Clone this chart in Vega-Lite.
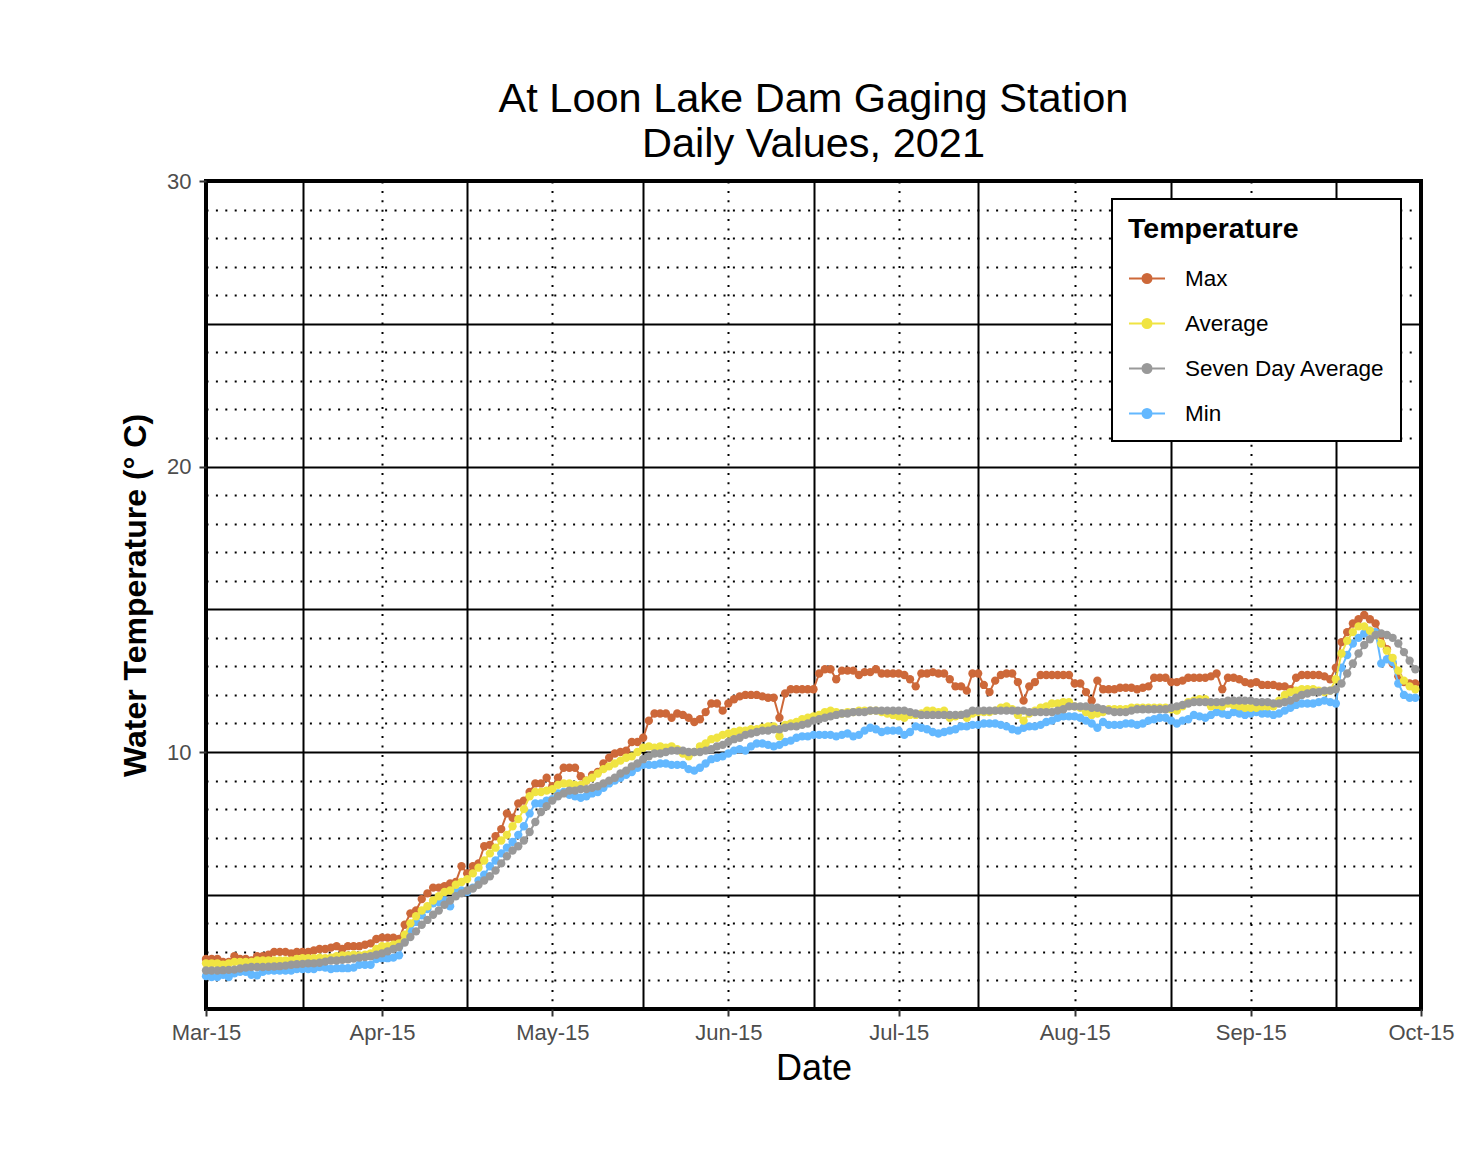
{
"$schema":"https://vega.github.io/schema/vega-lite/v6.json",
"width":1215,"height":828,
"autosize":"none",
"padding":{"left":206,"top":181,"right":58,"bottom":146},
"background":"white",
"title":{"text":["At Loon Lake Dam Gaging Station","Daily Values, 2021"],"fontSize":41.5,"font":"Liberation Sans","fontWeight":"normal","color":"black","anchor":"middle","frame":"group","lineHeight":45,"offset":5},
"config":{"font":"Liberation Sans","view":{"stroke":"black","strokeWidth":4},
"axis":{"domain":false,"grid":true,"gridColor":"black","gridWidth":2,"tickColor":"#333333","tickWidth":2,"tickSize":7,"labelFont":"Liberation Sans","labelFontSize":22,"labelColor":"#4D4D4D","titleFont":"Liberation Sans","titleColor":"black","labelOverlap":false,"labelFlush":false}},
"datasets":{
"max":[{"d":"2021-03-15","t":2.75},{"d":"2021-03-16","t":2.75},{"d":"2021-03-17","t":2.75},{"d":"2021-03-18","t":2.65},{"d":"2021-03-19","t":2.65},{"d":"2021-03-20","t":2.85},{"d":"2021-03-21","t":2.75},{"d":"2021-03-22","t":2.75},{"d":"2021-03-23","t":2.7},{"d":"2021-03-24","t":2.85},{"d":"2021-03-25","t":2.85},{"d":"2021-03-26","t":2.9},{"d":"2021-03-27","t":3.0},{"d":"2021-03-28","t":3.0},{"d":"2021-03-29","t":3.0},{"d":"2021-03-30","t":2.95},{"d":"2021-03-31","t":3.0},
{"d":"2021-04-01","t":3.0},{"d":"2021-04-02","t":3.0},{"d":"2021-04-03","t":3.05},{"d":"2021-04-04","t":3.1},{"d":"2021-04-05","t":3.1},{"d":"2021-04-06","t":3.15},{"d":"2021-04-07","t":3.2},{"d":"2021-04-08","t":3.1},{"d":"2021-04-09","t":3.2},{"d":"2021-04-10","t":3.2},{"d":"2021-04-11","t":3.2},{"d":"2021-04-12","t":3.25},{"d":"2021-04-13","t":3.3},{"d":"2021-04-14","t":3.45},{"d":"2021-04-15","t":3.5},{"d":"2021-04-16","t":3.5},{"d":"2021-04-17","t":3.5},{"d":"2021-04-18","t":3.45},{"d":"2021-04-19","t":3.95},{"d":"2021-04-20","t":4.35},{"d":"2021-04-21","t":4.45},{"d":"2021-04-22","t":4.85},{"d":"2021-04-23","t":5.05},{"d":"2021-04-24","t":5.25},{"d":"2021-04-25","t":5.25},{"d":"2021-04-26","t":5.3},{"d":"2021-04-27","t":5.4},{"d":"2021-04-28","t":5.45},{"d":"2021-04-29","t":6.0},{"d":"2021-04-30","t":5.75},
{"d":"2021-05-01","t":6.0},{"d":"2021-05-02","t":6.1},{"d":"2021-05-03","t":6.7},{"d":"2021-05-04","t":6.75},{"d":"2021-05-05","t":7.05},{"d":"2021-05-06","t":7.3},{"d":"2021-05-07","t":7.85},{"d":"2021-05-08","t":7.7},{"d":"2021-05-09","t":8.2},{"d":"2021-05-10","t":8.3},{"d":"2021-05-11","t":8.6},{"d":"2021-05-12","t":8.9},{"d":"2021-05-13","t":8.9},{"d":"2021-05-14","t":9.1},{"d":"2021-05-15","t":8.8},{"d":"2021-05-16","t":9.1},{"d":"2021-05-17","t":9.45},{"d":"2021-05-18","t":9.45},{"d":"2021-05-19","t":9.45},{"d":"2021-05-20","t":9.15},{"d":"2021-05-21","t":9.0},{"d":"2021-05-22","t":9.2},{"d":"2021-05-23","t":9.3},{"d":"2021-05-24","t":9.6},{"d":"2021-05-25","t":9.8},{"d":"2021-05-26","t":9.95},{"d":"2021-05-27","t":10.0},{"d":"2021-05-28","t":10.05},{"d":"2021-05-29","t":10.35},{"d":"2021-05-30","t":10.35},{"d":"2021-05-31","t":10.5},
{"d":"2021-06-01","t":11.1},{"d":"2021-06-02","t":11.35},{"d":"2021-06-03","t":11.35},{"d":"2021-06-04","t":11.35},{"d":"2021-06-05","t":11.2},{"d":"2021-06-06","t":11.35},{"d":"2021-06-07","t":11.3},{"d":"2021-06-08","t":11.2},{"d":"2021-06-09","t":11.05},{"d":"2021-06-10","t":11.15},{"d":"2021-06-11","t":11.4},{"d":"2021-06-12","t":11.7},{"d":"2021-06-13","t":11.7},{"d":"2021-06-14","t":11.45},{"d":"2021-06-15","t":11.7},{"d":"2021-06-16","t":11.85},{"d":"2021-06-17","t":11.95},{"d":"2021-06-18","t":12.0},{"d":"2021-06-19","t":12.0},{"d":"2021-06-20","t":12.0},{"d":"2021-06-21","t":11.95},{"d":"2021-06-22","t":11.9},{"d":"2021-06-23","t":11.9},{"d":"2021-06-24","t":11.2},{"d":"2021-06-25","t":12.05},{"d":"2021-06-26","t":12.2},{"d":"2021-06-27","t":12.2},{"d":"2021-06-28","t":12.2},{"d":"2021-06-29","t":12.2},{"d":"2021-06-30","t":12.2},
{"d":"2021-07-01","t":12.75},{"d":"2021-07-02","t":12.9},{"d":"2021-07-03","t":12.9},{"d":"2021-07-04","t":12.55},{"d":"2021-07-05","t":12.85},{"d":"2021-07-06","t":12.85},{"d":"2021-07-07","t":12.85},{"d":"2021-07-08","t":12.7},{"d":"2021-07-09","t":12.8},{"d":"2021-07-10","t":12.8},{"d":"2021-07-11","t":12.9},{"d":"2021-07-12","t":12.75},{"d":"2021-07-13","t":12.75},{"d":"2021-07-14","t":12.75},{"d":"2021-07-15","t":12.75},{"d":"2021-07-16","t":12.7},{"d":"2021-07-17","t":12.55},{"d":"2021-07-18","t":12.3},{"d":"2021-07-19","t":12.75},{"d":"2021-07-20","t":12.75},{"d":"2021-07-21","t":12.8},{"d":"2021-07-22","t":12.75},{"d":"2021-07-23","t":12.75},{"d":"2021-07-24","t":12.55},{"d":"2021-07-25","t":12.3},{"d":"2021-07-26","t":12.3},{"d":"2021-07-27","t":12.15},{"d":"2021-07-28","t":12.75},{"d":"2021-07-29","t":12.75},{"d":"2021-07-30","t":12.35},{"d":"2021-07-31","t":12.1},
{"d":"2021-08-01","t":12.5},{"d":"2021-08-02","t":12.7},{"d":"2021-08-03","t":12.75},{"d":"2021-08-04","t":12.75},{"d":"2021-08-05","t":12.45},{"d":"2021-08-06","t":11.8},{"d":"2021-08-07","t":12.3},{"d":"2021-08-08","t":12.45},{"d":"2021-08-09","t":12.7},{"d":"2021-08-10","t":12.7},{"d":"2021-08-11","t":12.7},{"d":"2021-08-12","t":12.7},{"d":"2021-08-13","t":12.7},{"d":"2021-08-14","t":12.7},{"d":"2021-08-15","t":12.4},{"d":"2021-08-16","t":12.4},{"d":"2021-08-17","t":12.1},{"d":"2021-08-18","t":11.8},{"d":"2021-08-19","t":12.5},{"d":"2021-08-20","t":12.2},{"d":"2021-08-21","t":12.2},{"d":"2021-08-22","t":12.2},{"d":"2021-08-23","t":12.25},{"d":"2021-08-24","t":12.25},{"d":"2021-08-25","t":12.25},{"d":"2021-08-26","t":12.2},{"d":"2021-08-27","t":12.25},{"d":"2021-08-28","t":12.3},{"d":"2021-08-29","t":12.6},{"d":"2021-08-30","t":12.6},{"d":"2021-08-31","t":12.6},
{"d":"2021-09-01","t":12.45},{"d":"2021-09-02","t":12.45},{"d":"2021-09-03","t":12.5},{"d":"2021-09-04","t":12.6},{"d":"2021-09-05","t":12.6},{"d":"2021-09-06","t":12.6},{"d":"2021-09-07","t":12.6},{"d":"2021-09-08","t":12.65},{"d":"2021-09-09","t":12.75},{"d":"2021-09-10","t":12.2},{"d":"2021-09-11","t":12.6},{"d":"2021-09-12","t":12.6},{"d":"2021-09-13","t":12.55},{"d":"2021-09-14","t":12.45},{"d":"2021-09-15","t":12.4},{"d":"2021-09-16","t":12.45},{"d":"2021-09-17","t":12.35},{"d":"2021-09-18","t":12.35},{"d":"2021-09-19","t":12.35},{"d":"2021-09-20","t":12.3},{"d":"2021-09-21","t":12.3},{"d":"2021-09-22","t":12.2},{"d":"2021-09-23","t":12.6},{"d":"2021-09-24","t":12.7},{"d":"2021-09-25","t":12.7},{"d":"2021-09-26","t":12.7},{"d":"2021-09-27","t":12.7},{"d":"2021-09-28","t":12.65},{"d":"2021-09-29","t":12.55},{"d":"2021-09-30","t":12.95},
{"d":"2021-10-01","t":13.85},{"d":"2021-10-02","t":14.2},{"d":"2021-10-03","t":14.5},{"d":"2021-10-04","t":14.65},{"d":"2021-10-05","t":14.8},{"d":"2021-10-06","t":14.65},{"d":"2021-10-07","t":14.5},{"d":"2021-10-08","t":14.1},{"d":"2021-10-09","t":13.6},{"d":"2021-10-10","t":13.1},{"d":"2021-10-11","t":12.65},{"d":"2021-10-12","t":12.45},{"d":"2021-10-13","t":12.4},{"d":"2021-10-14","t":12.4}],
"avg":[{"d":"2021-03-15","t":2.6},{"d":"2021-03-16","t":2.6},{"d":"2021-03-17","t":2.6},{"d":"2021-03-18","t":2.55},{"d":"2021-03-19","t":2.6},{"d":"2021-03-20","t":2.65},{"d":"2021-03-21","t":2.65},{"d":"2021-03-22","t":2.65},{"d":"2021-03-23","t":2.65},{"d":"2021-03-24","t":2.7},{"d":"2021-03-25","t":2.7},{"d":"2021-03-26","t":2.7},{"d":"2021-03-27","t":2.7},{"d":"2021-03-28","t":2.7},{"d":"2021-03-29","t":2.7},{"d":"2021-03-30","t":2.7},{"d":"2021-03-31","t":2.75},
{"d":"2021-04-01","t":2.78},{"d":"2021-04-02","t":2.78},{"d":"2021-04-03","t":2.78},{"d":"2021-04-04","t":2.8},{"d":"2021-04-05","t":2.78},{"d":"2021-04-06","t":2.8},{"d":"2021-04-07","t":2.85},{"d":"2021-04-08","t":2.88},{"d":"2021-04-09","t":2.88},{"d":"2021-04-10","t":2.9},{"d":"2021-04-11","t":2.88},{"d":"2021-04-12","t":2.9},{"d":"2021-04-13","t":2.95},{"d":"2021-04-14","t":3.1},{"d":"2021-04-15","t":3.2},{"d":"2021-04-16","t":3.2},{"d":"2021-04-17","t":3.25},{"d":"2021-04-18","t":3.3},{"d":"2021-04-19","t":3.6},{"d":"2021-04-20","t":4.0},{"d":"2021-04-21","t":4.25},{"d":"2021-04-22","t":4.45},{"d":"2021-04-23","t":4.6},{"d":"2021-04-24","t":4.8},{"d":"2021-04-25","t":4.95},{"d":"2021-04-26","t":5.1},{"d":"2021-04-27","t":5.15},{"d":"2021-04-28","t":5.35},{"d":"2021-04-29","t":5.45},{"d":"2021-04-30","t":5.55},
{"d":"2021-05-01","t":5.75},{"d":"2021-05-02","t":5.95},{"d":"2021-05-03","t":6.2},{"d":"2021-05-04","t":6.45},{"d":"2021-05-05","t":6.65},{"d":"2021-05-06","t":6.9},{"d":"2021-05-07","t":7.1},{"d":"2021-05-08","t":7.4},{"d":"2021-05-09","t":7.65},{"d":"2021-05-10","t":8.0},{"d":"2021-05-11","t":8.45},{"d":"2021-05-12","t":8.6},{"d":"2021-05-13","t":8.6},{"d":"2021-05-14","t":8.65},{"d":"2021-05-15","t":8.7},{"d":"2021-05-16","t":8.85},{"d":"2021-05-17","t":8.9},{"d":"2021-05-18","t":8.9},{"d":"2021-05-19","t":8.85},{"d":"2021-05-20","t":8.85},{"d":"2021-05-21","t":9.0},{"d":"2021-05-22","t":9.1},{"d":"2021-05-23","t":9.25},{"d":"2021-05-24","t":9.4},{"d":"2021-05-25","t":9.5},{"d":"2021-05-26","t":9.6},{"d":"2021-05-27","t":9.7},{"d":"2021-05-28","t":9.8},{"d":"2021-05-29","t":9.85},{"d":"2021-05-30","t":10.0},{"d":"2021-05-31","t":10.15},
{"d":"2021-06-01","t":10.2},{"d":"2021-06-02","t":10.15},{"d":"2021-06-03","t":10.2},{"d":"2021-06-04","t":10.15},{"d":"2021-06-05","t":10.2},{"d":"2021-06-06","t":10.1},{"d":"2021-06-07","t":9.95},{"d":"2021-06-08","t":9.85},{"d":"2021-06-09","t":10.0},{"d":"2021-06-10","t":10.2},{"d":"2021-06-11","t":10.3},{"d":"2021-06-12","t":10.45},{"d":"2021-06-13","t":10.5},{"d":"2021-06-14","t":10.6},{"d":"2021-06-15","t":10.65},{"d":"2021-06-16","t":10.7},{"d":"2021-06-17","t":10.75},{"d":"2021-06-18","t":10.75},{"d":"2021-06-19","t":10.8},{"d":"2021-06-20","t":10.8},{"d":"2021-06-21","t":10.85},{"d":"2021-06-22","t":10.9},{"d":"2021-06-23","t":10.9},{"d":"2021-06-24","t":10.55},{"d":"2021-06-25","t":10.95},{"d":"2021-06-26","t":11.0},{"d":"2021-06-27","t":11.05},{"d":"2021-06-28","t":11.15},{"d":"2021-06-29","t":11.2},{"d":"2021-06-30","t":11.25},
{"d":"2021-07-01","t":11.3},{"d":"2021-07-02","t":11.4},{"d":"2021-07-03","t":11.45},{"d":"2021-07-04","t":11.4},{"d":"2021-07-05","t":11.35},{"d":"2021-07-06","t":11.4},{"d":"2021-07-07","t":11.4},{"d":"2021-07-08","t":11.45},{"d":"2021-07-09","t":11.45},{"d":"2021-07-10","t":11.45},{"d":"2021-07-11","t":11.45},{"d":"2021-07-12","t":11.4},{"d":"2021-07-13","t":11.35},{"d":"2021-07-14","t":11.3},{"d":"2021-07-15","t":11.25},{"d":"2021-07-16","t":11.2},{"d":"2021-07-17","t":11.3},{"d":"2021-07-18","t":11.3},{"d":"2021-07-19","t":11.35},{"d":"2021-07-20","t":11.45},{"d":"2021-07-21","t":11.45},{"d":"2021-07-22","t":11.4},{"d":"2021-07-23","t":11.45},{"d":"2021-07-24","t":11.2},{"d":"2021-07-25","t":11.25},{"d":"2021-07-26","t":11.3},{"d":"2021-07-27","t":11.2},{"d":"2021-07-28","t":11.35},{"d":"2021-07-29","t":11.4},{"d":"2021-07-30","t":11.4},{"d":"2021-07-31","t":11.4},
{"d":"2021-08-01","t":11.45},{"d":"2021-08-02","t":11.55},{"d":"2021-08-03","t":11.6},{"d":"2021-08-04","t":11.5},{"d":"2021-08-05","t":11.3},{"d":"2021-08-06","t":11.1},{"d":"2021-08-07","t":11.35},{"d":"2021-08-08","t":11.45},{"d":"2021-08-09","t":11.55},{"d":"2021-08-10","t":11.6},{"d":"2021-08-11","t":11.7},{"d":"2021-08-12","t":11.7},{"d":"2021-08-13","t":11.75},{"d":"2021-08-14","t":11.75},{"d":"2021-08-15","t":11.6},{"d":"2021-08-16","t":11.55},{"d":"2021-08-17","t":11.4},{"d":"2021-08-18","t":11.3},{"d":"2021-08-19","t":11.35},{"d":"2021-08-20","t":11.4},{"d":"2021-08-21","t":11.5},{"d":"2021-08-22","t":11.5},{"d":"2021-08-23","t":11.5},{"d":"2021-08-24","t":11.5},{"d":"2021-08-25","t":11.55},{"d":"2021-08-26","t":11.55},{"d":"2021-08-27","t":11.55},{"d":"2021-08-28","t":11.55},{"d":"2021-08-29","t":11.55},{"d":"2021-08-30","t":11.55},{"d":"2021-08-31","t":11.55},
{"d":"2021-09-01","t":11.5},{"d":"2021-09-02","t":11.45},{"d":"2021-09-03","t":11.6},{"d":"2021-09-04","t":11.75},{"d":"2021-09-05","t":11.8},{"d":"2021-09-06","t":11.85},{"d":"2021-09-07","t":11.85},{"d":"2021-09-08","t":11.6},{"d":"2021-09-09","t":11.65},{"d":"2021-09-10","t":11.6},{"d":"2021-09-11","t":11.7},{"d":"2021-09-12","t":11.65},{"d":"2021-09-13","t":11.6},{"d":"2021-09-14","t":11.55},{"d":"2021-09-15","t":11.55},{"d":"2021-09-16","t":11.55},{"d":"2021-09-17","t":11.6},{"d":"2021-09-18","t":11.6},{"d":"2021-09-19","t":11.6},{"d":"2021-09-20","t":11.8},{"d":"2021-09-21","t":12.0},{"d":"2021-09-22","t":12.1},{"d":"2021-09-23","t":12.15},{"d":"2021-09-24","t":12.2},{"d":"2021-09-25","t":12.2},{"d":"2021-09-26","t":12.2},{"d":"2021-09-27","t":12.15},{"d":"2021-09-28","t":12.1},{"d":"2021-09-29","t":12.15},{"d":"2021-09-30","t":12.55},
{"d":"2021-10-01","t":13.45},{"d":"2021-10-02","t":13.9},{"d":"2021-10-03","t":14.2},{"d":"2021-10-04","t":14.4},{"d":"2021-10-05","t":14.4},{"d":"2021-10-06","t":14.25},{"d":"2021-10-07","t":14.1},{"d":"2021-10-08","t":13.8},{"d":"2021-10-09","t":13.55},{"d":"2021-10-10","t":13.3},{"d":"2021-10-11","t":12.85},{"d":"2021-10-12","t":12.5},{"d":"2021-10-13","t":12.3},{"d":"2021-10-14","t":12.2}],
"min":[{"d":"2021-03-15","t":2.15},{"d":"2021-03-16","t":2.12},{"d":"2021-03-17","t":2.12},{"d":"2021-03-18","t":2.2},{"d":"2021-03-19","t":2.12},{"d":"2021-03-20","t":2.25},{"d":"2021-03-21","t":2.3},{"d":"2021-03-22","t":2.3},{"d":"2021-03-23","t":2.2},{"d":"2021-03-24","t":2.18},{"d":"2021-03-25","t":2.3},{"d":"2021-03-26","t":2.35},{"d":"2021-03-27","t":2.35},{"d":"2021-03-28","t":2.35},{"d":"2021-03-29","t":2.35},{"d":"2021-03-30","t":2.35},{"d":"2021-03-31","t":2.4},
{"d":"2021-04-01","t":2.4},{"d":"2021-04-02","t":2.4},{"d":"2021-04-03","t":2.4},{"d":"2021-04-04","t":2.47},{"d":"2021-04-05","t":2.45},{"d":"2021-04-06","t":2.4},{"d":"2021-04-07","t":2.43},{"d":"2021-04-08","t":2.43},{"d":"2021-04-09","t":2.43},{"d":"2021-04-10","t":2.45},{"d":"2021-04-11","t":2.55},{"d":"2021-04-12","t":2.55},{"d":"2021-04-13","t":2.55},{"d":"2021-04-14","t":2.75},{"d":"2021-04-15","t":2.78},{"d":"2021-04-16","t":2.78},{"d":"2021-04-17","t":2.8},{"d":"2021-04-18","t":2.88},{"d":"2021-04-19","t":3.4},{"d":"2021-04-20","t":3.75},{"d":"2021-04-21","t":4.05},{"d":"2021-04-22","t":4.28},{"d":"2021-04-23","t":4.5},{"d":"2021-04-24","t":4.7},{"d":"2021-04-25","t":4.75},{"d":"2021-04-26","t":4.8},{"d":"2021-04-27","t":4.6},{"d":"2021-04-28","t":5.1},{"d":"2021-04-29","t":5.15},{"d":"2021-04-30","t":5.1},
{"d":"2021-05-01","t":5.25},{"d":"2021-05-02","t":5.5},{"d":"2021-05-03","t":5.7},{"d":"2021-05-04","t":6.0},{"d":"2021-05-05","t":6.2},{"d":"2021-05-06","t":6.45},{"d":"2021-05-07","t":6.65},{"d":"2021-05-08","t":6.85},{"d":"2021-05-09","t":7.1},{"d":"2021-05-10","t":7.4},{"d":"2021-05-11","t":7.85},{"d":"2021-05-12","t":8.2},{"d":"2021-05-13","t":8.2},{"d":"2021-05-14","t":8.3},{"d":"2021-05-15","t":8.35},{"d":"2021-05-16","t":8.55},{"d":"2021-05-17","t":8.6},{"d":"2021-05-18","t":8.5},{"d":"2021-05-19","t":8.45},{"d":"2021-05-20","t":8.4},{"d":"2021-05-21","t":8.45},{"d":"2021-05-22","t":8.55},{"d":"2021-05-23","t":8.6},{"d":"2021-05-24","t":8.75},{"d":"2021-05-25","t":8.9},{"d":"2021-05-26","t":9.0},{"d":"2021-05-27","t":9.1},{"d":"2021-05-28","t":9.2},{"d":"2021-05-29","t":9.3},{"d":"2021-05-30","t":9.45},{"d":"2021-05-31","t":9.55},
{"d":"2021-06-01","t":9.55},{"d":"2021-06-02","t":9.55},{"d":"2021-06-03","t":9.6},{"d":"2021-06-04","t":9.6},{"d":"2021-06-05","t":9.55},{"d":"2021-06-06","t":9.55},{"d":"2021-06-07","t":9.55},{"d":"2021-06-08","t":9.4},{"d":"2021-06-09","t":9.35},{"d":"2021-06-10","t":9.45},{"d":"2021-06-11","t":9.6},{"d":"2021-06-12","t":9.75},{"d":"2021-06-13","t":9.8},{"d":"2021-06-14","t":9.85},{"d":"2021-06-15","t":9.95},{"d":"2021-06-16","t":10.05},{"d":"2021-06-17","t":10.1},{"d":"2021-06-18","t":10.05},{"d":"2021-06-19","t":10.2},{"d":"2021-06-20","t":10.3},{"d":"2021-06-21","t":10.3},{"d":"2021-06-22","t":10.25},{"d":"2021-06-23","t":10.2},{"d":"2021-06-24","t":10.25},{"d":"2021-06-25","t":10.35},{"d":"2021-06-26","t":10.4},{"d":"2021-06-27","t":10.5},{"d":"2021-06-28","t":10.55},{"d":"2021-06-29","t":10.55},{"d":"2021-06-30","t":10.6},
{"d":"2021-07-01","t":10.6},{"d":"2021-07-02","t":10.6},{"d":"2021-07-03","t":10.6},{"d":"2021-07-04","t":10.55},{"d":"2021-07-05","t":10.6},{"d":"2021-07-06","t":10.65},{"d":"2021-07-07","t":10.55},{"d":"2021-07-08","t":10.6},{"d":"2021-07-09","t":10.75},{"d":"2021-07-10","t":10.85},{"d":"2021-07-11","t":10.8},{"d":"2021-07-12","t":10.7},{"d":"2021-07-13","t":10.75},{"d":"2021-07-14","t":10.75},{"d":"2021-07-15","t":10.75},{"d":"2021-07-16","t":10.6},{"d":"2021-07-17","t":10.7},{"d":"2021-07-18","t":10.9},{"d":"2021-07-19","t":10.85},{"d":"2021-07-20","t":10.8},{"d":"2021-07-21","t":10.7},{"d":"2021-07-22","t":10.65},{"d":"2021-07-23","t":10.7},{"d":"2021-07-24","t":10.75},{"d":"2021-07-25","t":10.8},{"d":"2021-07-26","t":10.9},{"d":"2021-07-27","t":10.9},{"d":"2021-07-28","t":10.95},{"d":"2021-07-29","t":10.95},{"d":"2021-07-30","t":11.0},{"d":"2021-07-31","t":11.0},
{"d":"2021-08-01","t":11.0},{"d":"2021-08-02","t":10.95},{"d":"2021-08-03","t":10.9},{"d":"2021-08-04","t":10.8},{"d":"2021-08-05","t":10.75},{"d":"2021-08-06","t":10.85},{"d":"2021-08-07","t":10.9},{"d":"2021-08-08","t":10.9},{"d":"2021-08-09","t":10.95},{"d":"2021-08-10","t":11.05},{"d":"2021-08-11","t":11.1},{"d":"2021-08-12","t":11.2},{"d":"2021-08-13","t":11.25},{"d":"2021-08-14","t":11.25},{"d":"2021-08-15","t":11.25},{"d":"2021-08-16","t":11.2},{"d":"2021-08-17","t":11.1},{"d":"2021-08-18","t":11.0},{"d":"2021-08-19","t":10.85},{"d":"2021-08-20","t":11.05},{"d":"2021-08-21","t":10.95},{"d":"2021-08-22","t":10.95},{"d":"2021-08-23","t":10.95},{"d":"2021-08-24","t":11.0},{"d":"2021-08-25","t":11.0},{"d":"2021-08-26","t":10.95},{"d":"2021-08-27","t":11.0},{"d":"2021-08-28","t":11.1},{"d":"2021-08-29","t":11.15},{"d":"2021-08-30","t":11.2},{"d":"2021-08-31","t":11.2},
{"d":"2021-09-01","t":11.1},{"d":"2021-09-02","t":11.0},{"d":"2021-09-03","t":11.1},{"d":"2021-09-04","t":11.15},{"d":"2021-09-05","t":11.3},{"d":"2021-09-06","t":11.25},{"d":"2021-09-07","t":11.2},{"d":"2021-09-08","t":11.3},{"d":"2021-09-09","t":11.4},{"d":"2021-09-10","t":11.35},{"d":"2021-09-11","t":11.3},{"d":"2021-09-12","t":11.4},{"d":"2021-09-13","t":11.35},{"d":"2021-09-14","t":11.3},{"d":"2021-09-15","t":11.35},{"d":"2021-09-16","t":11.4},{"d":"2021-09-17","t":11.35},{"d":"2021-09-18","t":11.35},{"d":"2021-09-19","t":11.3},{"d":"2021-09-20","t":11.35},{"d":"2021-09-21","t":11.45},{"d":"2021-09-22","t":11.55},{"d":"2021-09-23","t":11.65},{"d":"2021-09-24","t":11.7},{"d":"2021-09-25","t":11.7},{"d":"2021-09-26","t":11.7},{"d":"2021-09-27","t":11.75},{"d":"2021-09-28","t":11.8},{"d":"2021-09-29","t":11.75},{"d":"2021-09-30","t":11.7},
{"d":"2021-10-01","t":12.95},{"d":"2021-10-02","t":13.4},{"d":"2021-10-03","t":13.8},{"d":"2021-10-04","t":14.0},{"d":"2021-10-05","t":14.15},{"d":"2021-10-06","t":14.25},{"d":"2021-10-07","t":14.2},{"d":"2021-10-08","t":13.1},{"d":"2021-10-09","t":13.25},{"d":"2021-10-10","t":13.15},{"d":"2021-10-11","t":12.4},{"d":"2021-10-12","t":12.0},{"d":"2021-10-13","t":11.9},{"d":"2021-10-14","t":11.9}],
"sda":[{"d":"2021-03-15","t":2.35},{"d":"2021-03-16","t":2.35},{"d":"2021-03-17","t":2.35},{"d":"2021-03-18","t":2.36},{"d":"2021-03-19","t":2.37},{"d":"2021-03-20","t":2.38},{"d":"2021-03-21","t":2.42},{"d":"2021-03-22","t":2.45},{"d":"2021-03-23","t":2.47},{"d":"2021-03-24","t":2.47},{"d":"2021-03-25","t":2.47},{"d":"2021-03-26","t":2.48},{"d":"2021-03-27","t":2.49},{"d":"2021-03-28","t":2.5},{"d":"2021-03-29","t":2.52},{"d":"2021-03-30","t":2.55},{"d":"2021-03-31","t":2.57},
{"d":"2021-04-01","t":2.58},{"d":"2021-04-02","t":2.6},{"d":"2021-04-03","t":2.6},{"d":"2021-04-04","t":2.62},{"d":"2021-04-05","t":2.66},{"d":"2021-04-06","t":2.7},{"d":"2021-04-07","t":2.7},{"d":"2021-04-08","t":2.72},{"d":"2021-04-09","t":2.74},{"d":"2021-04-10","t":2.77},{"d":"2021-04-11","t":2.8},{"d":"2021-04-12","t":2.82},{"d":"2021-04-13","t":2.85},{"d":"2021-04-14","t":2.9},{"d":"2021-04-15","t":2.95},{"d":"2021-04-16","t":3.02},{"d":"2021-04-17","t":3.1},{"d":"2021-04-18","t":3.17},{"d":"2021-04-19","t":3.33},{"d":"2021-04-20","t":3.52},{"d":"2021-04-21","t":3.72},{"d":"2021-04-22","t":3.95},{"d":"2021-04-23","t":4.12},{"d":"2021-04-24","t":4.3},{"d":"2021-04-25","t":4.45},{"d":"2021-04-26","t":4.65},{"d":"2021-04-27","t":4.8},{"d":"2021-04-28","t":4.95},{"d":"2021-04-29","t":5.05},{"d":"2021-04-30","t":5.15},
{"d":"2021-05-01","t":5.22},{"d":"2021-05-02","t":5.35},{"d":"2021-05-03","t":5.5},{"d":"2021-05-04","t":5.65},{"d":"2021-05-05","t":5.85},{"d":"2021-05-06","t":6.1},{"d":"2021-05-07","t":6.35},{"d":"2021-05-08","t":6.55},{"d":"2021-05-09","t":6.7},{"d":"2021-05-10","t":6.9},{"d":"2021-05-11","t":7.2},{"d":"2021-05-12","t":7.55},{"d":"2021-05-13","t":7.9},{"d":"2021-05-14","t":8.1},{"d":"2021-05-15","t":8.3},{"d":"2021-05-16","t":8.45},{"d":"2021-05-17","t":8.55},{"d":"2021-05-18","t":8.65},{"d":"2021-05-19","t":8.65},{"d":"2021-05-20","t":8.7},{"d":"2021-05-21","t":8.7},{"d":"2021-05-22","t":8.75},{"d":"2021-05-23","t":8.8},{"d":"2021-05-24","t":8.9},{"d":"2021-05-25","t":9.0},{"d":"2021-05-26","t":9.1},{"d":"2021-05-27","t":9.25},{"d":"2021-05-28","t":9.35},{"d":"2021-05-29","t":9.5},{"d":"2021-05-30","t":9.6},{"d":"2021-05-31","t":9.75},
{"d":"2021-06-01","t":9.85},{"d":"2021-06-02","t":9.95},{"d":"2021-06-03","t":9.95},{"d":"2021-06-04","t":10.0},{"d":"2021-06-05","t":10.05},{"d":"2021-06-06","t":10.05},{"d":"2021-06-07","t":10.05},{"d":"2021-06-08","t":10.0},{"d":"2021-06-09","t":10.0},{"d":"2021-06-10","t":10.0},{"d":"2021-06-11","t":10.05},{"d":"2021-06-12","t":10.1},{"d":"2021-06-13","t":10.2},{"d":"2021-06-14","t":10.25},{"d":"2021-06-15","t":10.35},{"d":"2021-06-16","t":10.45},{"d":"2021-06-17","t":10.5},{"d":"2021-06-18","t":10.6},{"d":"2021-06-19","t":10.65},{"d":"2021-06-20","t":10.7},{"d":"2021-06-21","t":10.75},{"d":"2021-06-22","t":10.75},{"d":"2021-06-23","t":10.8},{"d":"2021-06-24","t":10.8},{"d":"2021-06-25","t":10.85},{"d":"2021-06-26","t":10.9},{"d":"2021-06-27","t":10.9},{"d":"2021-06-28","t":10.95},{"d":"2021-06-29","t":11.0},{"d":"2021-06-30","t":11.1},
{"d":"2021-07-01","t":11.15},{"d":"2021-07-02","t":11.2},{"d":"2021-07-03","t":11.25},{"d":"2021-07-04","t":11.3},{"d":"2021-07-05","t":11.35},{"d":"2021-07-06","t":11.35},{"d":"2021-07-07","t":11.4},{"d":"2021-07-08","t":11.4},{"d":"2021-07-09","t":11.4},{"d":"2021-07-10","t":11.45},{"d":"2021-07-11","t":11.45},{"d":"2021-07-12","t":11.45},{"d":"2021-07-13","t":11.45},{"d":"2021-07-14","t":11.45},{"d":"2021-07-15","t":11.45},{"d":"2021-07-16","t":11.45},{"d":"2021-07-17","t":11.4},{"d":"2021-07-18","t":11.35},{"d":"2021-07-19","t":11.3},{"d":"2021-07-20","t":11.3},{"d":"2021-07-21","t":11.3},{"d":"2021-07-22","t":11.3},{"d":"2021-07-23","t":11.3},{"d":"2021-07-24","t":11.3},{"d":"2021-07-25","t":11.3},{"d":"2021-07-26","t":11.3},{"d":"2021-07-27","t":11.35},{"d":"2021-07-28","t":11.45},{"d":"2021-07-29","t":11.45},{"d":"2021-07-30","t":11.45},{"d":"2021-07-31","t":11.45},
{"d":"2021-08-01","t":11.45},{"d":"2021-08-02","t":11.45},{"d":"2021-08-03","t":11.45},{"d":"2021-08-04","t":11.45},{"d":"2021-08-05","t":11.45},{"d":"2021-08-06","t":11.45},{"d":"2021-08-07","t":11.4},{"d":"2021-08-08","t":11.4},{"d":"2021-08-09","t":11.4},{"d":"2021-08-10","t":11.4},{"d":"2021-08-11","t":11.4},{"d":"2021-08-12","t":11.45},{"d":"2021-08-13","t":11.5},{"d":"2021-08-14","t":11.6},{"d":"2021-08-15","t":11.6},{"d":"2021-08-16","t":11.6},{"d":"2021-08-17","t":11.6},{"d":"2021-08-18","t":11.55},{"d":"2021-08-19","t":11.55},{"d":"2021-08-20","t":11.5},{"d":"2021-08-21","t":11.45},{"d":"2021-08-22","t":11.4},{"d":"2021-08-23","t":11.4},{"d":"2021-08-24","t":11.4},{"d":"2021-08-25","t":11.45},{"d":"2021-08-26","t":11.5},{"d":"2021-08-27","t":11.5},{"d":"2021-08-28","t":11.5},{"d":"2021-08-29","t":11.5},{"d":"2021-08-30","t":11.5},{"d":"2021-08-31","t":11.5},
{"d":"2021-09-01","t":11.55},{"d":"2021-09-02","t":11.6},{"d":"2021-09-03","t":11.65},{"d":"2021-09-04","t":11.7},{"d":"2021-09-05","t":11.75},{"d":"2021-09-06","t":11.75},{"d":"2021-09-07","t":11.75},{"d":"2021-09-08","t":11.75},{"d":"2021-09-09","t":11.75},{"d":"2021-09-10","t":11.75},{"d":"2021-09-11","t":11.8},{"d":"2021-09-12","t":11.8},{"d":"2021-09-13","t":11.8},{"d":"2021-09-14","t":11.8},{"d":"2021-09-15","t":11.8},{"d":"2021-09-16","t":11.75},{"d":"2021-09-17","t":11.75},{"d":"2021-09-18","t":11.75},{"d":"2021-09-19","t":11.7},{"d":"2021-09-20","t":11.7},{"d":"2021-09-21","t":11.75},{"d":"2021-09-22","t":11.8},{"d":"2021-09-23","t":11.9},{"d":"2021-09-24","t":12.0},{"d":"2021-09-25","t":12.05},{"d":"2021-09-26","t":12.1},{"d":"2021-09-27","t":12.1},{"d":"2021-09-28","t":12.15},{"d":"2021-09-29","t":12.15},{"d":"2021-09-30","t":12.2},
{"d":"2021-10-01","t":12.4},{"d":"2021-10-02","t":12.75},{"d":"2021-10-03","t":13.1},{"d":"2021-10-04","t":13.45},{"d":"2021-10-05","t":13.75},{"d":"2021-10-06","t":13.95},{"d":"2021-10-07","t":14.1},{"d":"2021-10-08","t":14.15},{"d":"2021-10-09","t":14.1},{"d":"2021-10-10","t":14.0},{"d":"2021-10-11","t":13.8},{"d":"2021-10-12","t":13.5},{"d":"2021-10-13","t":13.2},{"d":"2021-10-14","t":12.9}]
},
"encoding":{
"x":{"field":"d","type":"temporal",
"scale":{"type":"utc","domain":[{"year":2021,"month":3,"date":15,"utc":true},{"year":2021,"month":10,"date":15,"utc":true}]},
"axis":{"title":"Date","titleFontSize":36,"titleFontWeight":"normal","titlePadding":8,"labelPadding":6,
"values":[{"year":2021,"month":3,"date":15,"utc":true},{"year":2021,"month":4,"date":1,"utc":true},{"year":2021,"month":4,"date":15,"utc":true},{"year":2021,"month":4,"date":30,"utc":true},{"year":2021,"month":5,"date":15,"utc":true},{"year":2021,"month":5,"date":31,"utc":true},{"year":2021,"month":6,"date":15,"utc":true},{"year":2021,"month":6,"date":30,"utc":true},{"year":2021,"month":7,"date":15,"utc":true},{"year":2021,"month":7,"date":29,"utc":true},{"year":2021,"month":8,"date":15,"utc":true},{"year":2021,"month":9,"date":1,"utc":true},{"year":2021,"month":9,"date":15,"utc":true},{"year":2021,"month":9,"date":30,"utc":true},{"year":2021,"month":10,"date":15,"utc":true}],
"labelExpr":"utcdate(datum.value) === 15 ? utcFormat(datum.value, '%b-%d') : ''",
"gridDash":{"condition":{"test":"utcdate(datum.value) === 15","value":[2,7.4]},"value":[]},
"tickOpacity":{"condition":{"test":"utcdate(datum.value) === 15","value":1},"value":0}}},
"y":{"field":"t","type":"quantitative","scale":{"domain":[1,30],"nice":false,"zero":false},
"axis":{"title":"Water Temperature (° C)","titleFontSize":32,"titleFontWeight":"bold","titlePadding":14,"labelPadding":8,
"values":[2,3,4,5,6,7,8,9,10,11,12,13,14,15,16,17,18,19,20,21,22,23,24,25,26,27,28,29,30],
"labelExpr":"datum.value % 10 === 0 ? datum.label : ''",
"gridDash":{"condition":{"test":"datum.value % 5 === 0","value":[]},"value":[2,7.4]},
"tickOpacity":{"condition":{"test":"datum.value % 10 === 0","value":1},"value":0}}}
},
"layer":[
{"data":{"name":"max"},"mark":{"type":"line","strokeWidth":2,"point":{"filled":true,"size":70,"opacity":1}},
"encoding":{"color":{"datum":"Max","type":"nominal",
"scale":{"domain":["Max","Average","Seven Day Average","Min"],"range":["#CD6839","#F0E442","#999999","#63B8FF"]},
"legend":{"title":"Temperature","orient":"none","legendX":906,"legendY":18,
"titleFontSize":28.5,"titleFontWeight":"bold","titleColor":"black","titleFont":"Liberation Sans","titlePadding":16,"titleLimit":0,
"labelFontSize":22.5,"labelColor":"black","labelFont":"Liberation Sans","labelOffset":19,"labelLimit":0,
"symbolType":"M-1,0L1,0M0.25,0A0.25,0.25,0,1,1,-0.25,0A0.25,0.25,0,1,1,0.25,0Z","symbolSize":1296,"symbolStrokeWidth":2,
"strokeColor":"black","fillColor":"white","padding":16,"rowPadding":14,
"encode":{"symbols":{"update":{"fill":{"scale":"color","field":"value"},"stroke":{"scale":"color","field":"value"},"opacity":{"value":1}}},
"legend":{"update":{"strokeWidth":{"value":2}}}}}}}},
{"data":{"name":"min"},"mark":{"type":"line","strokeWidth":2,"point":{"filled":true,"size":70,"opacity":1}},
"encoding":{"color":{"datum":"Min","type":"nominal"}}},
{"data":{"name":"avg"},"mark":{"type":"line","strokeWidth":2,"point":{"filled":true,"size":70,"opacity":1}},
"encoding":{"color":{"datum":"Average","type":"nominal"}}},
{"data":{"name":"sda"},"mark":{"type":"line","strokeWidth":2,"point":{"filled":true,"size":70,"opacity":1}},
"encoding":{"color":{"datum":"Seven Day Average","type":"nominal"}}}
]
}
